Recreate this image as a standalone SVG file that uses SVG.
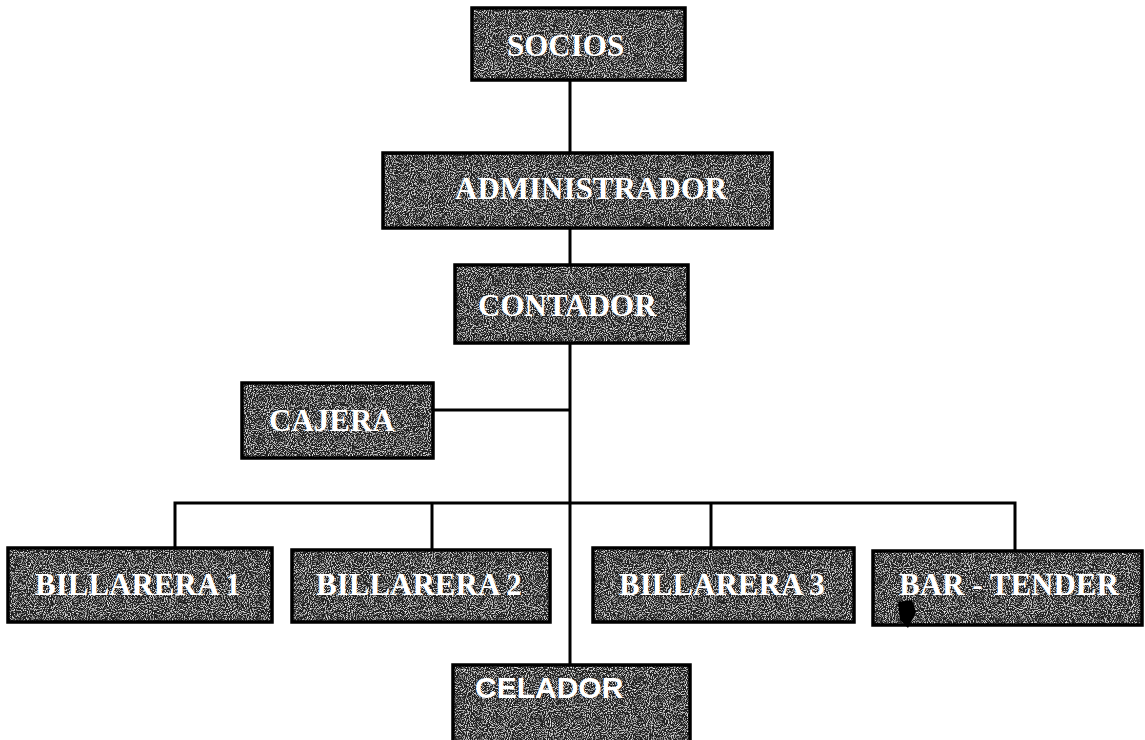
<svg xmlns="http://www.w3.org/2000/svg" width="1145" height="740" viewBox="0 0 1145 740">
  <defs>
    <filter id="grain" x="0" y="0" width="100%" height="100%">
      <feTurbulence type="fractalNoise" baseFrequency="0.95" numOctaves="2" seed="3" result="noise"/>
      <feColorMatrix in="noise" type="matrix" values="0 0 0 0 0.85  0 0 0 0 0.85  0 0 0 0 0.85  3.4 0 0 0 -1.65" result="specks"/>
      <feComposite in="specks" in2="SourceGraphic" operator="in" result="clipped"/>
      <feMerge>
        <feMergeNode in="SourceGraphic"/>
        <feMergeNode in="clipped"/>
      </feMerge>
    </filter>
  </defs>
  <style>
    .bg { fill: #242424; filter: url(#grain); }
    .edge { fill: none; stroke: #000; stroke-width: 3.5; }
    .lbl { font-family: "Liberation Serif", "Times New Roman", serif; font-weight: bold; font-size: 31px; fill: #fff; }
    .lbl-sans { font-family: "Liberation Sans", Arial, sans-serif; font-weight: bold; font-size: 30px; fill: #fff; }
    .conn { stroke: #000; stroke-width: 3; fill: none; }
  </style>
  <rect width="1145" height="740" fill="#fff"/>

  <g id="connectors">
    <line class="conn" x1="570" y1="80" x2="570" y2="665"/>
    <line class="conn" x1="433" y1="410" x2="570" y2="410"/>
    <polyline class="conn" points="175,548 175,503 1015,503 1015,551"/>
    <line class="conn" x1="432" y1="503" x2="432" y2="550"/>
    <line class="conn" x1="711" y1="503" x2="711" y2="548"/>
  </g>

  <g id="socios">
    <rect class="bg" x="472" y="8" width="213" height="72"/>
    <rect class="edge" x="472" y="8" width="213" height="72"/>
    <text class="lbl" x="507" y="56">SOCIOS</text>
  </g>
  <g id="administrador">
    <rect class="bg" x="383" y="153" width="389" height="75"/>
    <rect class="edge" x="383" y="153" width="389" height="75"/>
    <text class="lbl" x="455" y="199">ADMINISTRADOR</text>
  </g>
  <g id="contador">
    <rect class="bg" x="455" y="265" width="233" height="78"/>
    <rect class="edge" x="455" y="265" width="233" height="78"/>
    <text class="lbl" x="478" y="316">CONTADOR</text>
  </g>
  <g id="cajera">
    <rect class="bg" x="242" y="383" width="191" height="75"/>
    <rect class="edge" x="242" y="383" width="191" height="75"/>
    <text class="lbl" x="269" y="431">CAJERA</text>
  </g>
  <g id="billarera1">
    <rect class="bg" x="8" y="548" width="264" height="74"/>
    <rect class="edge" x="8" y="548" width="264" height="74"/>
    <text class="lbl" x="35" y="595">BILLARERA 1</text>
  </g>
  <g id="billarera2">
    <rect class="bg" x="292" y="550" width="258" height="72"/>
    <rect class="edge" x="292" y="550" width="258" height="72"/>
    <text class="lbl" x="316" y="595">BILLARERA 2</text>
  </g>
  <g id="billarera3">
    <rect class="bg" x="593" y="548" width="261" height="74"/>
    <rect class="edge" x="593" y="548" width="261" height="74"/>
    <text class="lbl" x="619" y="595">BILLARERA 3</text>
  </g>
  <g id="bartender">
    <rect class="bg" x="873" y="551" width="269" height="74"/>
    <rect class="edge" x="873" y="551" width="269" height="74"/>
    <text class="lbl" x="899" y="595">BAR - TENDER</text>
    <path d="M898,602 L912,600 L916,612 L908,628 L900,620 Z" fill="#000"/>
  </g>
  <g id="celador">
    <rect class="bg" x="453" y="665" width="237" height="80"/>
    <rect class="edge" x="453" y="665" width="237" height="80"/>
    <text class="lbl-sans" x="475" y="698">CELADOR</text>
  </g>
</svg>
